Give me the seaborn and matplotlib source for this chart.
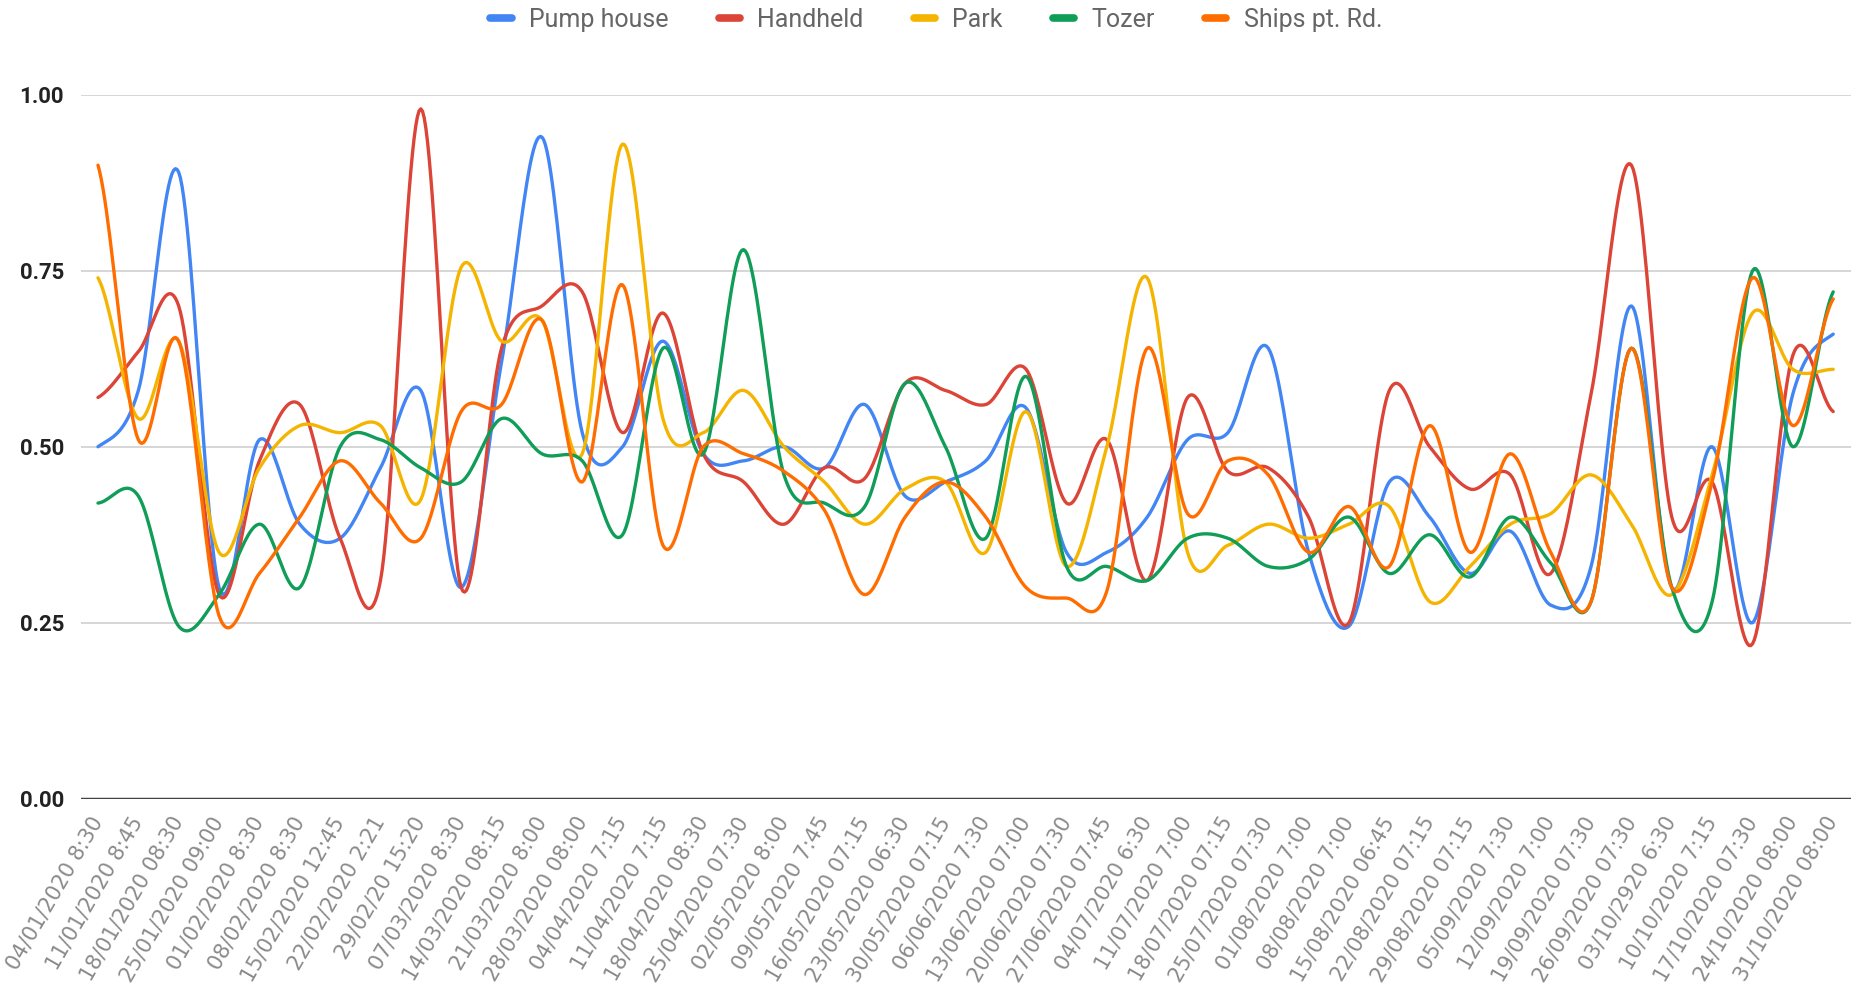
# weekly readings per site, smoothed line chart
import numpy as np
import pandas as pd
import seaborn as sns
import matplotlib.pyplot as plt

# x axis labels (one reading per label)
labels = ["04/01/2020 8:30", "11/01/2020 8:45", "18/01/2020 08:30", "25/01/2020 09:00",
          "01/02/2020 8:30", "08/02/2020 8:30", "15/02/2020 12:45", "22/02/2020 2:21",
          "29/02/20 15:20", "07/03/2020 8:30", "14/03/2020 08:15", "21/03/2020 8:00",
          "28/03/2020 08:00", "04/04/2020 7:15", "11/04/2020 7:15", "18/04/2020 08:30",
          "25/04/2020 07:30", "02/05/2020 8:00", "09/05/2020 7:45", "16/05/2020 07:15",
          "23/05/2020 06:30", "30/05/2020 07:15", "06/06/2020 7:30", "13/06/2020 07:00",
          "20/06/2020 07:30", "27/06/2020 07:45", "04/07/2020 6:30", "11/07/2020 7:00",
          "18/07/2020 07:15", "25/07/2020 07:30", "01/08/2020 7:00", "08/08/2020 7:00",
          "15/08/2020 06:45", "22/08/2020 07:15", "29/08/2020 07:15", "05/09/2020 7:30",
          "12/09/2020 7:00", "19/09/2020 07:30", "26/09/2020 07:30", "03/10/2920 6:30",
          "10/10/2020 7:15", "17/10/2020 07:30", "24/10/2020 08:00", "31/10/2020 08:00"]

pump_house = [0.50, 0.58, 0.89, 0.30, 0.51, 0.39, 0.37, 0.47, 0.58, 0.30, 0.62, 0.94,
              0.52, 0.50, 0.65, 0.49, 0.48, 0.50, 0.47, 0.56, 0.43, 0.45, 0.48, 0.555,
              0.35, 0.35, 0.40, 0.51, 0.52, 0.64, 0.35, 0.245, 0.45, 0.40, 0.32, 0.38,
              0.275, 0.33, 0.70, 0.30, 0.50, 0.25, 0.575, 0.66]
handheld = [0.57, 0.635, 0.70, 0.29, 0.48, 0.56, 0.37, 0.31, 0.98, 0.30, 0.64, 0.70,
            0.72, 0.52, 0.69, 0.49, 0.45, 0.39, 0.47, 0.455, 0.59, 0.58, 0.56, 0.61,
            0.42, 0.51, 0.31, 0.57, 0.465, 0.47, 0.40, 0.25, 0.58, 0.50, 0.44, 0.46,
            0.32, 0.575, 0.90, 0.40, 0.45, 0.22, 0.63, 0.55]
park = [0.74, 0.54, 0.65, 0.35, 0.47, 0.53, 0.52, 0.53, 0.425, 0.755, 0.65, 0.68,
        0.49, 0.93, 0.54, 0.52, 0.58, 0.50, 0.45, 0.39, 0.44, 0.45, 0.35, 0.55,
        0.33, 0.50, 0.74, 0.35, 0.36, 0.39, 0.37, 0.39, 0.415, 0.28, 0.33, 0.39,
        0.405, 0.46, 0.39, 0.29, 0.46, 0.69, 0.61, 0.61]
tozer = [0.42, 0.43, 0.245, 0.29, 0.39, 0.30, 0.50, 0.51, 0.47, 0.45, 0.54, 0.49,
         0.48, 0.375, 0.64, 0.49, 0.78, 0.46, 0.42, 0.415, 0.59, 0.50, 0.37, 0.60,
         0.33, 0.33, 0.31, 0.37, 0.37, 0.33, 0.34, 0.40, 0.32, 0.375, 0.315, 0.40,
         0.335, 0.28, 0.64, 0.30, 0.28, 0.75, 0.50, 0.72]
ships_pt_rd = [0.90, 0.51, 0.65, 0.26, 0.32, 0.40, 0.48, 0.42, 0.37, 0.55, 0.56, 0.68,
               0.45, 0.73, 0.36, 0.50, 0.49, 0.465, 0.41, 0.29, 0.40, 0.45, 0.40, 0.30,
               0.285, 0.295, 0.64, 0.405, 0.48, 0.46, 0.35, 0.415, 0.33, 0.53, 0.35, 0.49,
               0.35, 0.28, 0.64, 0.30, 0.45, 0.74, 0.53, 0.71]

names = ["Pump house", "Handheld", "Park", "Tozer", "Ships pt. Rd."]
colors = ["#4285F4", "#DB4437", "#F4B400", "#0F9D58", "#FF6D01"]


def smooth(y, n=24):
    # catmull-rom curve through every reading (the "smooth" line option)
    y = np.asarray(y, float)
    p = np.concatenate([[y[0]], y, [y[-1]]])
    t = np.linspace(0, 1, n, endpoint=False)
    h00 = 2*t**3 - 3*t**2 + 1
    h10 = t**3 - 2*t**2 + t
    h01 = -2*t**3 + 3*t**2
    h11 = t**3 - t**2
    xs, ys = [], []
    for i in range(len(y) - 1):
        m1 = (p[i+2] - p[i]) / 2
        m2 = (p[i+3] - p[i+1]) / 2
        xs.append(i + t)
        ys.append(h00*p[i+1] + h10*m1 + h01*p[i+2] + h11*m2)
    xs.append([len(y) - 1])
    ys.append([y[-1]])
    return np.concatenate(xs), np.concatenate(ys)


frames = []
for name, vals in zip(names, [pump_house, handheld, park, tozer, ships_pt_rd]):
    sx, sy = smooth(vals)
    frames.append(pd.DataFrame({"x": sx, "value": sy, "series": name}))
df = pd.concat(frames, ignore_index=True)

sns.set_style("white")
plt.rcParams['font.family'] = ['Roboto', 'DejaVu Sans']

fig = plt.figure(figsize=(18.58, 10.01), dpi=100)
ax = fig.add_axes([0.0434, 0.2021, 0.9526, 0.7032])

sns.lineplot(data=df, x="x", y="value", hue="series", hue_order=names,
             palette=colors, sort=False, estimator=None, linewidth=2.4, ax=ax)

ax.set_xlim(-0.43, 43.43)
ax.set_ylim(0, 1)
ax.set_yticks([0, 0.25, 0.5, 0.75, 1.0])
ax.set_yticklabels(["%.2f" % v for v in [0, 0.25, 0.5, 0.75, 1.0]],
                   fontsize=16, fontweight='bold', color='#222222')
ax.set_xticks(range(len(labels)))
ax.set_xticklabels(labels, rotation=60, ha='right', va='center',
                   rotation_mode='anchor', fontsize=15, color='#8a8a8a',
                   family=['DejaVu Sans'])
ax.tick_params(axis='both', length=0)
ax.tick_params(axis='y', pad=12)
ax.tick_params(axis='x', pad=14)
ax.set_xlabel("")
ax.set_ylabel("")

ax.yaxis.grid(True, color='#cfcfcf', linewidth=1.2)
ax.set_axisbelow(True)
for s in ax.spines.values():
    s.set_visible(False)
ax.axhline(0, color='#444444', linewidth=2.5, zorder=3)

leg = ax.legend(loc='center', bbox_to_anchor=(0.504, 0.98),
                bbox_transform=fig.transFigure, ncol=5,
                frameon=False, handlelength=0.85, handletextpad=0.7,
                columnspacing=2.0, fontsize=18, labelcolor='#666666')
for h in leg.get_lines():
    h.set_linewidth(5.5)
    h.set_solid_capstyle('round')

plt.savefig("out.png", dpi=100)
